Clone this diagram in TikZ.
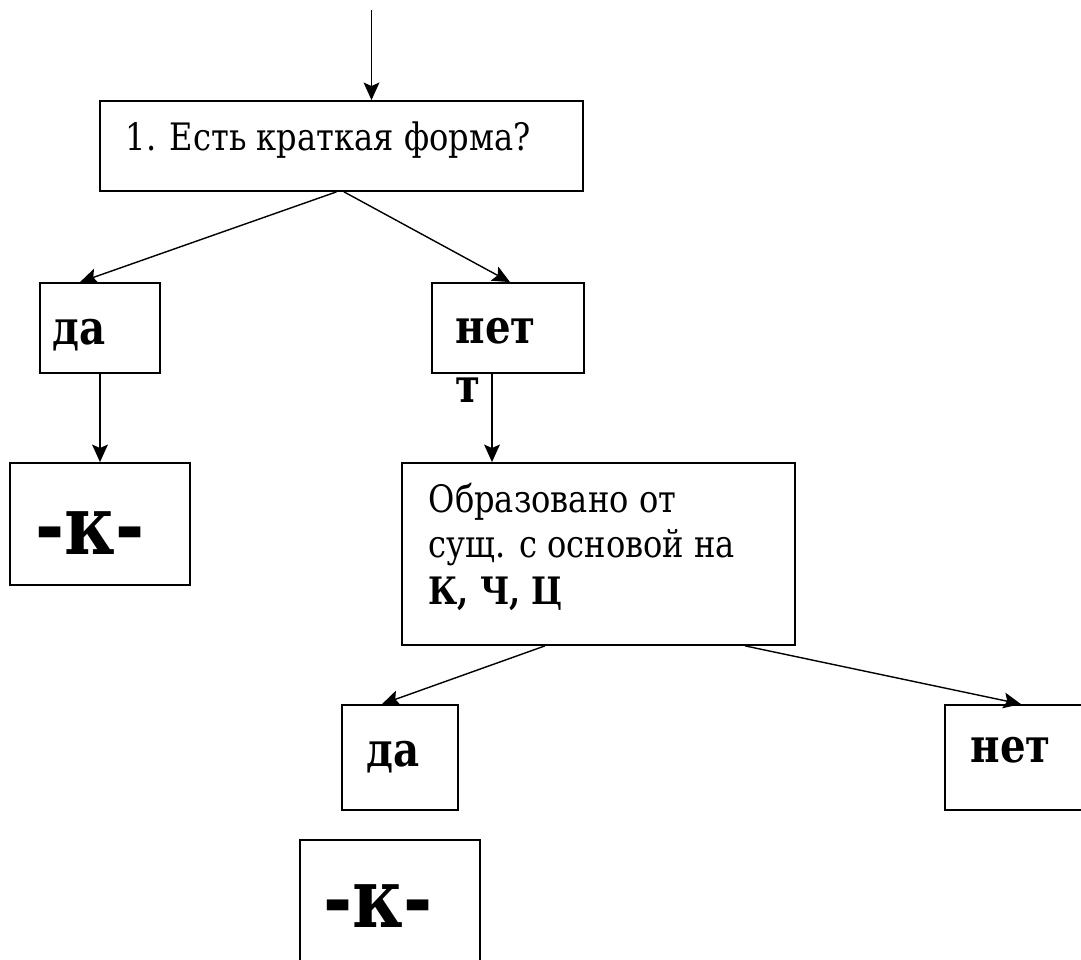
\documentclass[tikz,border=0pt]{standalone}
\usepackage{fontspec}
\setmainfont{DejaVu Serif}[FakeStretch=0.85]
\usetikzlibrary{arrows.meta}

\begin{document}
\begin{tikzpicture}[
	box/.style={draw, line width=1pt, inner sep=0pt},
	txt/.style={anchor=base west, inner sep=0pt, font=\fontsize{21.5}{26}\selectfont},
	ans/.style={anchor=base west, inner sep=0pt, font=\fontsize{27}{32}\selectfont\bfseries},
	suf/.style={anchor=base west, inner sep=0pt, font=\fontsize{47}{56}\selectfont\bfseries},
	arr/.style={-{Stealth[length=10pt,width=9pt,inset=2pt]}},
	line width=0.8pt
]
\useasboundingbox (0,0) rectangle (21.62,19.2);

%Question 1
\node [box,
	minimum width=9.66cm,
	minimum height=1.8cm,
]  (q1box)at (6.83,16.28) {};
\node [txt]  (q1text)at (2.5,16.18) {1. Есть краткая форма?};

%Input
\coordinate (topin) at (7.43,19.0);
\draw[arr] (topin) -- (topin |- q1box.north);

%Answer yes
\node [box,
	minimum width=2.4cm,
	minimum height=1.8cm,
]  (da1box)at (2.0,12.64) {};
\node [ans]  (da1text)at (1.04,12.3) {да};

%Answer no
\node [box,
	minimum width=3.04cm,
	minimum height=1.8cm,
]  (net1box)at (10.16,12.64) {};
\node [ans]  (net1text)at (9.1,12.32) {нет};
\node [ans]  (net1tail)at (9.1,11.14) {т};

\draw[arr] ([xshift=-0.1cm]q1box.south) -- ([xshift=-0.4cm]da1box.north);
\draw[arr] ([xshift=0.05cm]q1box.south) -- ([xshift=0.04cm]net1box.north);

%Suffix -k-
\node [box,
	minimum width=3.6cm,
	minimum height=2.44cm,
]  (k1box)at (2.0,8.72) {};
\node [suf]  (k1text)at (0.7,8.1) {-к-};
\draw[arr] (da1box.south) -- (k1box.north);

%Question 2
\node [box,
	minimum width=7.86cm,
	minimum height=3.64cm,
]  (obrbox)at (11.97,8.12) {};
\node [txt]  (obrtext1)at (8.56,8.94) {Образовано от};
\node [txt]  (obrtext2)at (8.56,8.04) {сущ. с основой на};
\node [txt]  (obrtext3)at (8.56,7.1) {\bfseries К, Ч, Ц};
\draw[arr] ([xshift=-0.32cm]net1box.south) -- ([xshift=-0.32cm]net1box.south |- obrbox.north);

%Answer yes
\node [box,
	minimum width=2.32cm,
	minimum height=2.1cm,
]  (da2box)at (8.0,4.05) {};
\node [ans]  (da2text)at (7.32,3.86) {да};

%Answer no
\node [box,
	minimum width=3.04cm,
	minimum height=2.1cm,
]  (net2box)at (20.42,4.05) {};
\node [ans]  (net2text)at (19.4,3.94) {нет};

\draw[arr] ([xshift=-1.07cm]obrbox.south) -- ([xshift=-0.36cm]da2box.north);
\draw[arr] ([xshift=2.93cm]obrbox.south) -- (net2box.north);

%Suffix -k-
\node [box,
	minimum width=3.6cm,
	minimum height=2.44cm,
]  (k2box)at (7.8,1.18) {};
\node [suf]  (k2text)at (6.46,0.64) {-к-};

\end{tikzpicture}
\end{document}
